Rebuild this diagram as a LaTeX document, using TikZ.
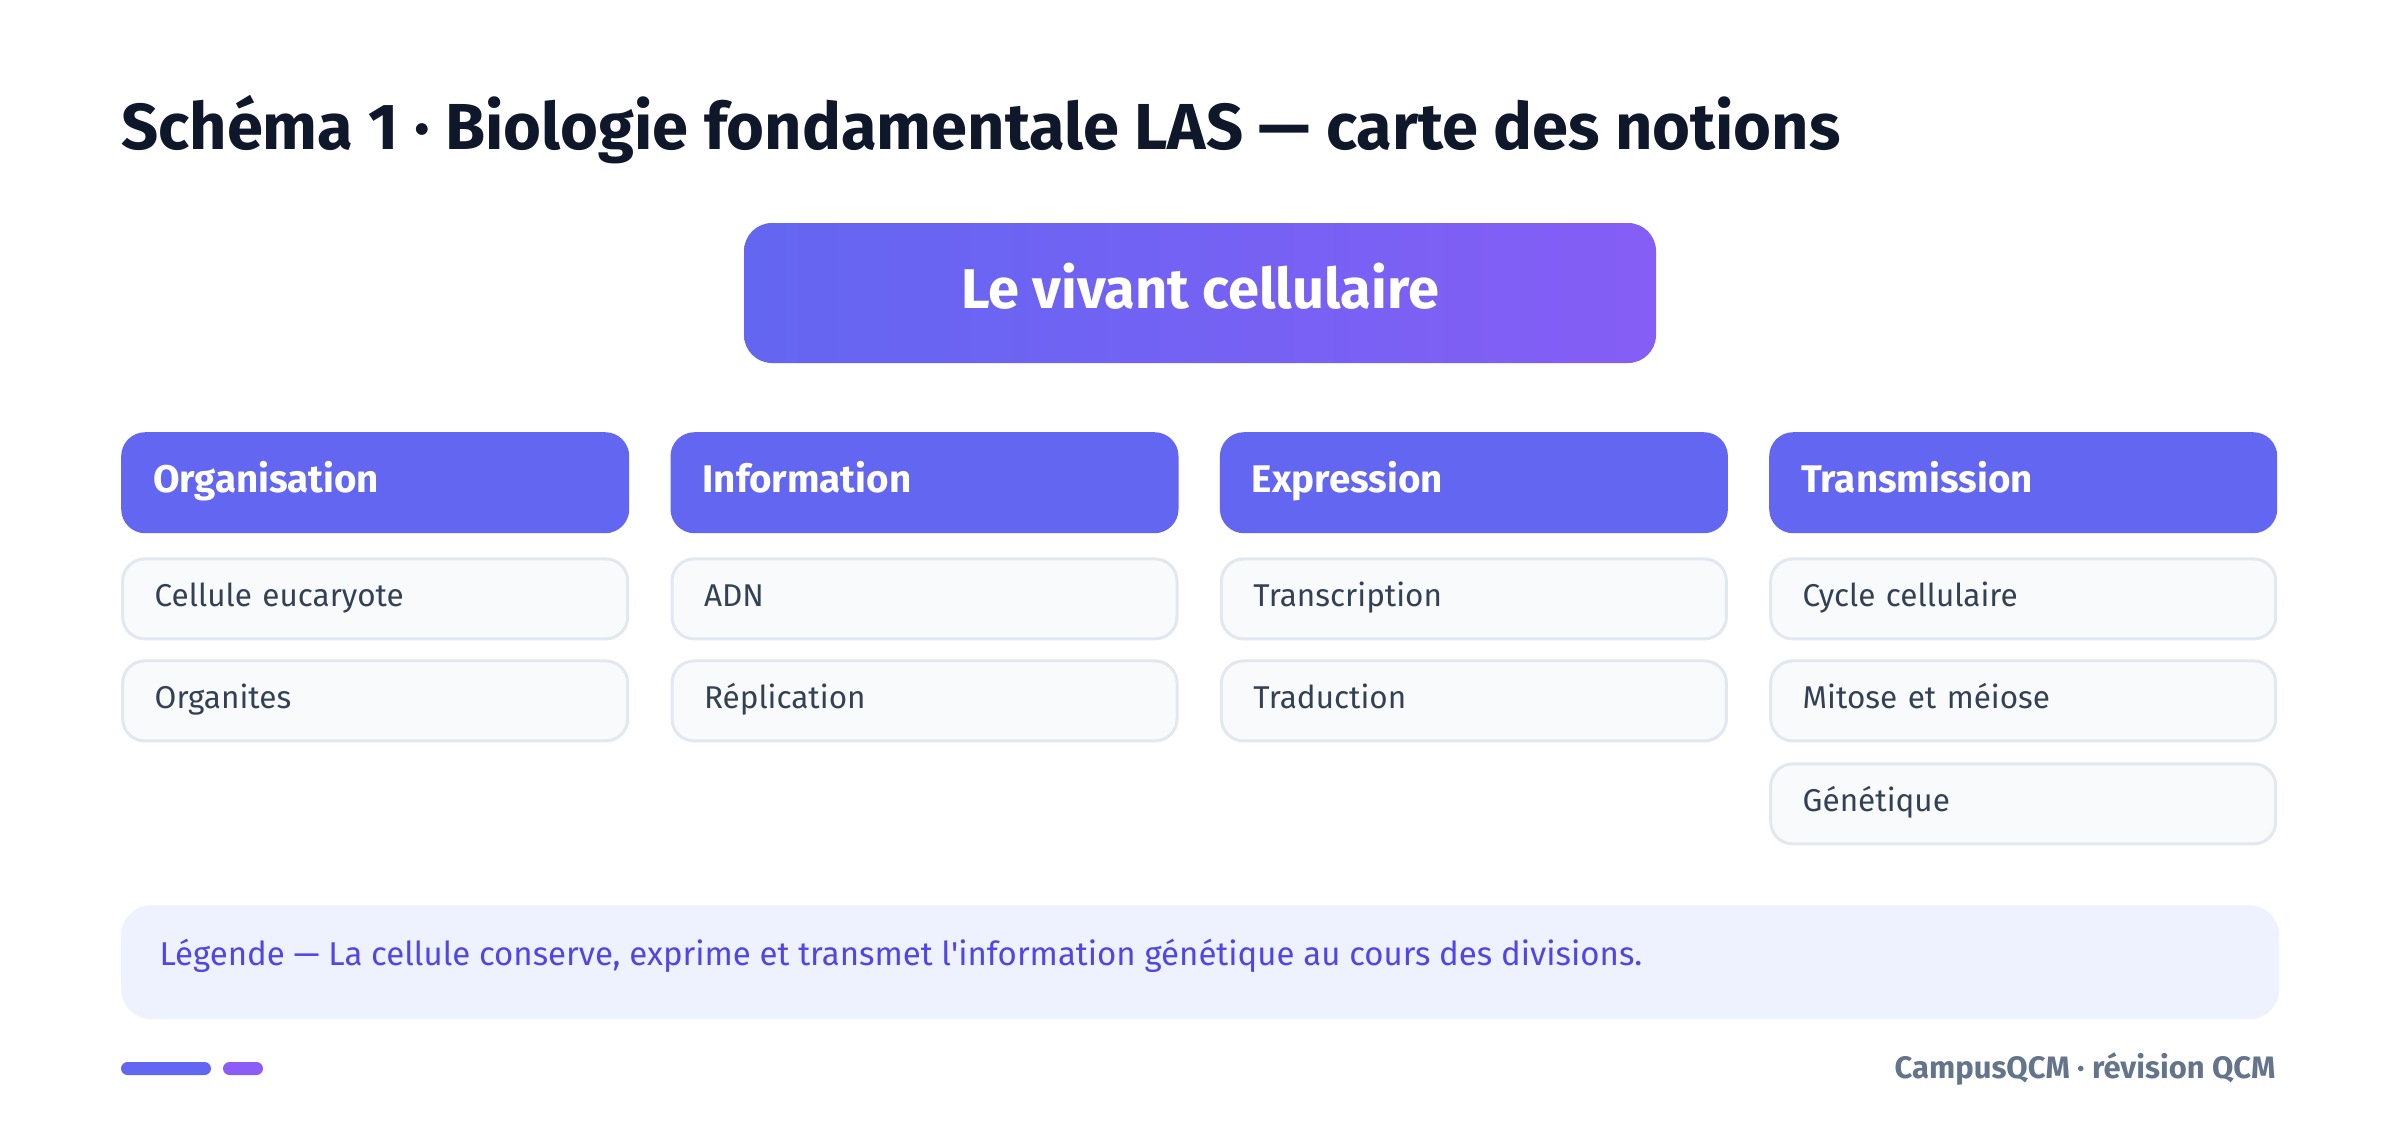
\documentclass[tikz,border=0pt]{standalone}
\usepackage{fontspec}
\setmainfont{Fira Sans}
\usetikzlibrary{positioning}

\definecolor{inkdark}{HTML}{0F172A}
\definecolor{indigo}{HTML}{6366F1}
\definecolor{violet}{HTML}{8B5CF6}
\definecolor{cardfill}{HTML}{F8FAFC}
\definecolor{cardline}{HTML}{E2E8F0}
\definecolor{cardtext}{HTML}{334155}
\definecolor{legendfill}{HTML}{EEF2FF}
\definecolor{legendtext}{HTML}{4F46E5}
\definecolor{foottext}{HTML}{64748B}

\tikzset{
  head/.style={fill=indigo, rounded corners=24pt, text=white,
    font=\fontsize{38.5}{46}\selectfont\bfseries, text width=444pt,
    text height=28pt, text depth=9pt,
    inner xsep=32pt, minimum height=101pt, align=left, anchor=north west},
  notion/.style={fill=cardfill, draw=cardline, line width=3pt,
    rounded corners=22pt, text=cardtext, font=\fontsize{31.5}{38}\selectfont,
    text width=441pt, text height=23pt, text depth=8pt,
    inner xsep=32pt, minimum height=80pt, align=left},
  pill/.style={rounded corners=6.5pt}
}

\begin{document}
\begin{tikzpicture}[x=1pt,y=-1pt]
\useasboundingbox[fill=white] (0,0) rectangle (2400,1130);

% title
\node[anchor=base west, text=inkdark, font=\fontsize{65}{76}\selectfont\bfseries, inner sep=0]
  (titre) at (121,149) {Schéma 1 · Biologie fondamentale LAS — carte des notions};

% central box
\node[rounded corners=28pt, left color=indigo, right color=violet!85!indigo, text=white,
  minimum width=912pt, minimum height=140pt, text depth=14pt,
  font=\fontsize{56}{66}\selectfont\bfseries]
  (vivant) at (1200,293) {Le vivant cellulaire};

% columns
\node[head] (orga) at (121,432) {Organisation};
\node[head] (info) at (670.3,432) {Information};
\node[head] (expr) at (1219.7,432) {Expression};
\node[head] (trans) at (1769,432) {Transmission};

\node[notion, below=24pt of orga] (orga1) {Cellule eucaryote};
\node[notion, below=19pt of orga1] (orga2) {Organites};

\node[notion, below=24pt of info] (info1) {ADN};
\node[notion, below=19pt of info1] (info2) {Réplication};

\node[notion, below=24pt of expr] (expr1) {Transcription};
\node[notion, below=19pt of expr1] (expr2) {Traduction};

\node[notion, below=24pt of trans] (trans1) {Cycle cellulaire};
\node[notion, below=19pt of trans1] (trans2) {Mitose et méiose};
\node[notion, below=20pt of trans2] (trans3) {Génétique};

% legend
\node[fill=legendfill, rounded corners=30pt, minimum width=2158pt, minimum height=114pt,
  anchor=north west] (legende) at (121,905) {};
\node[anchor=west, text=legendtext, font=\fontsize{33}{40}\selectfont]
  (legtexte) at ([xshift=35pt,yshift=6pt]legende.west)
  {Légende — La cellule conserve, exprime et transmet l\textquotesingle information génétique au cours des divisions.};

% footer
\fill[indigo, pill] (121,1062) rectangle (211,1075);
\fill[violet, pill] (223,1062) rectangle (263,1075);
\node[anchor=east, text=foottext, font=\fontsize{31}{36}\selectfont\bfseries]
  (pied) at (2279,1069) {CampusQCM · révision QCM};
\end{tikzpicture}
\end{document}
